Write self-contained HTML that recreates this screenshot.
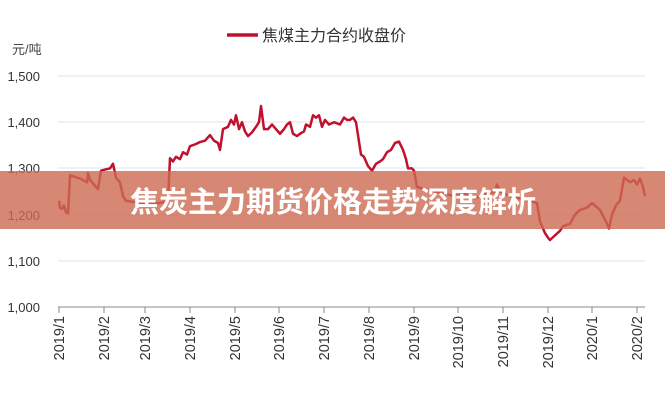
<!DOCTYPE html>
<html><head><meta charset="utf-8"><style>
html,body{margin:0;padding:0;background:#fff;}
svg{display:block;font-family:"Liberation Sans","Noto Sans CJK SC",sans-serif;}
</style></head><body>
<svg width="665" height="400" viewBox="0 0 665 400" xmlns="http://www.w3.org/2000/svg">
<rect width="665" height="400" fill="#fff"/>
<line x1="227" y1="35" x2="258" y2="35" stroke="#c0112f" stroke-width="3.5"/>
<text x="262" y="41" font-size="16" fill="#333">焦煤主力合约收盘价</text>
<text x="12" y="54" font-size="13" fill="#444">元/吨</text>
<g stroke="#e3e3e3" stroke-width="1">
<line x1="58" y1="76" x2="645" y2="76"/><line x1="58" y1="122" x2="645" y2="122"/>
<line x1="58" y1="168" x2="645" y2="168"/><line x1="58" y1="215" x2="645" y2="215"/>
<line x1="58" y1="261" x2="645" y2="261"/>
</g>
<g font-size="13" fill="#333" text-anchor="end">
<text x="40" y="81">1,500</text><text x="40" y="127">1,400</text><text x="40" y="173">1,300</text>
<text x="40" y="220">1,200</text><text x="40" y="266">1,100</text><text x="40" y="312">1,000</text>
</g>
<line x1="58" y1="307" x2="645" y2="307" stroke="#888" stroke-width="1"/>
<g stroke="#888" stroke-width="1">
<line x1="59" y1="307" x2="59" y2="313"/><line x1="104" y1="307" x2="104" y2="313"/><line x1="145" y1="307" x2="145" y2="313"/><line x1="190" y1="307" x2="190" y2="313"/><line x1="235" y1="307" x2="235" y2="313"/><line x1="279" y1="307" x2="279" y2="313"/><line x1="324" y1="307" x2="324" y2="313"/><line x1="369" y1="307" x2="369" y2="313"/><line x1="414" y1="307" x2="414" y2="313"/><line x1="458" y1="307" x2="458" y2="313"/><line x1="503" y1="307" x2="503" y2="313"/><line x1="548" y1="307" x2="548" y2="313"/><line x1="592" y1="307" x2="592" y2="313"/><line x1="637" y1="307" x2="637" y2="313"/>
</g>
<g font-size="14.5" fill="#333" text-anchor="end">
<text transform="translate(64,316) rotate(-90)">2019/1</text>
<text transform="translate(109,316) rotate(-90)">2019/2</text>
<text transform="translate(150,316) rotate(-90)">2019/3</text>
<text transform="translate(195,316) rotate(-90)">2019/4</text>
<text transform="translate(240,316) rotate(-90)">2019/5</text>
<text transform="translate(284,316) rotate(-90)">2019/6</text>
<text transform="translate(329,316) rotate(-90)">2019/7</text>
<text transform="translate(374,316) rotate(-90)">2019/8</text>
<text transform="translate(419,316) rotate(-90)">2019/9</text>
<text transform="translate(463,316) rotate(-90)">2019/10</text>
<text transform="translate(508,316) rotate(-90)">2019/11</text>
<text transform="translate(553,316) rotate(-90)">2019/12</text>
<text transform="translate(597,316) rotate(-90)">2020/1</text>
<text transform="translate(642,316) rotate(-90)">2020/2</text>
</g>
<g transform="matrix(1,0,0,-0.462,0,769)">
<polyline fill="none" stroke="#c0112f" stroke-width="2.5" vector-effect="non-scaling-stroke" stroke-linejoin="round" points="
59,1230 60,1215 62,1212 64,1220 66,1205 68,1203 70,1285 80,1278 87,1270 88,1290 90,1275 94,1265 98,1255 101,1295 106,1298 110,1300 113,1310 116,1280 120,1270 123,1240 126,1230 140,1225 160,1225 168,1230 170,1322 173,1315 176,1325 180,1320 183,1335 187,1330 190,1348 195,1352 200,1357 205,1360 210,1372 214,1360 218,1355 220,1340 223,1385 228,1390 231,1405 234,1395 236,1415 239,1385 242,1400 245,1380 248,1370 252,1378 256,1390 259,1400 261,1435 264,1385 268,1385 272,1395 276,1385 280,1375 284,1385 287,1395 290,1400 293,1375 297,1370 300,1375 304,1380 306,1395 310,1390 313,1415 316,1410 319,1415 322,1390 325,1405 329,1395 334,1400 340,1395 344,1410 347,1405 350,1405 353,1410 356,1400 361,1330 364,1325 368,1305 372,1295 376,1310 380,1315 383,1320 387,1335 391,1340 395,1355 399,1358 403,1340 406,1320 408,1300 412,1300 414,1295 417,1260 425,1255 435,1250 445,1245 455,1240 465,1245 475,1235 485,1245 495,1250 497,1265 500,1250 510,1240 520,1235 530,1230 537,1225 540,1185 545,1160 548,1150 550,1145 555,1155 560,1165 563,1175 570,1180 575,1200 580,1210 587,1215 592,1225 600,1210 606,1185 609,1170 612,1200 616,1220 620,1230 624,1280 630,1270 634,1275 637,1265 640,1278 643,1260 645,1240"/>
</g>
<rect x="0" y="171" width="665" height="58" fill="#cd6a52" fill-opacity="0.8"/>
<text x="333" y="212" font-size="29" font-weight="bold" fill="#fff" text-anchor="middle" font-family="'Noto Sans CJK SC',sans-serif">焦炭主力期货价格走势深度解析</text>
</svg>
</body></html>
